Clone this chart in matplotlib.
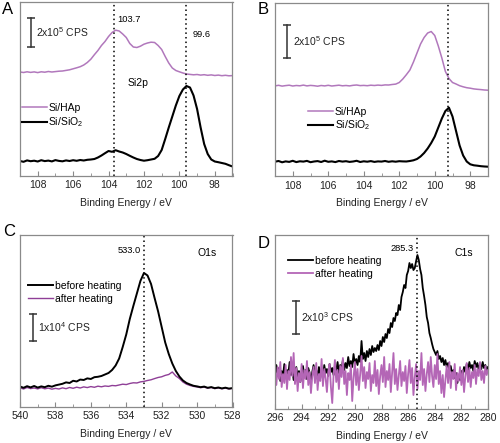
import numpy as np
import matplotlib
matplotlib.use('Agg')
from matplotlib import pyplot as plt
from matplotlib.ticker import MultipleLocator

plt.rcParams['font.family'] = ['Liberation Sans', 'DejaVu Sans']
plt.rcParams['mathtext.default'] = 'regular'

# Si2p, panel A (109 -> 97 eV, paso 0.2 eV), intensidad en u.a. con offset
si_a_hap = [104.0, 103.5, 104.2, 103.6, 104.1, 103.4, 104.2, 103.8, 104.5, 104.0,
            104.4, 104.8, 105.0, 105.6, 106.2, 107.2, 108.2, 109.3, 111.0, 113.5,
            116.8, 121.3, 125.5, 130.5, 134.5, 139.5, 143.5, 145.8, 145.0, 142.0,
            138.5, 132.5, 129.0, 128.5, 129.8, 131.8, 133.0, 133.8, 133.5, 130.5,
            126.5, 119.5, 113.0, 108.0, 105.5, 104.2, 103.0, 102.0, 101.6, 101.2,
            101.5, 100.9, 101.3, 100.7, 101.1, 100.5, 100.9, 100.3, 100.7, 100.2,
            100.4]
si_a_sio2 = [15.0, 14.2, 15.6, 14.8, 15.3, 14.5, 15.8, 14.9, 15.4, 14.6,
             15.9, 15.1, 14.7, 15.6, 15.0, 15.8, 15.2, 16.0, 15.5, 16.2,
             16.5, 17.0, 18.5, 20.5, 22.8, 25.0, 24.2, 25.8, 24.5, 23.5,
             22.0, 20.2, 18.5, 17.0, 16.0, 15.3, 15.8, 16.5, 17.2, 20.0,
             26.0, 37.0, 48.5, 59.5, 70.5, 80.0, 86.5, 90.0, 88.5, 80.5,
             67.0, 48.5, 32.0, 22.0, 16.5, 14.5, 13.8, 13.0, 12.2, 10.8,
             9.5]

# Si2p, panel B
si_b_hap = [90.6, 91.2, 90.4, 90.9, 91.3, 90.5, 91.0, 90.7, 91.4, 90.6,
            91.1, 90.8, 90.3, 91.0, 90.6, 91.2, 90.5, 90.9, 91.3, 90.7,
            91.0, 90.6, 91.2, 91.5, 90.9, 91.1, 90.8, 91.3, 91.0, 91.4,
            91.1, 91.6, 91.5, 92.0, 92.4, 94.0, 97.5, 101.8, 106.5, 114.5,
            123.5, 132.5, 139.0, 143.5, 145.0, 141.0, 130.5, 118.5, 105.0, 98.0,
            94.0, 92.5, 90.8, 89.7, 88.8, 88.3, 87.6, 87.2, 86.9, 86.5,
            86.3]
si_b_sio2 = [14.8, 15.5, 14.2, 15.1, 14.6, 15.7, 14.4, 15.2, 14.9, 15.6,
             14.3, 15.0, 15.4, 14.5, 15.8, 14.7, 15.1, 14.4, 15.5, 14.9,
             15.3, 14.6, 15.0, 15.7, 14.5, 15.2, 14.8, 15.4, 14.6, 15.1,
             14.9, 15.5, 14.7, 15.2, 14.8, 15.3, 15.1, 15.0, 15.5, 16.2,
             17.5, 20.0, 23.5, 28.0, 33.5, 40.0, 49.0, 58.0, 65.5, 68.8,
             60.0, 45.5, 31.0, 21.0, 15.0, 12.2, 11.2, 10.8, 10.3, 10.0,
             9.8]

# O1s, panel C (540 -> 528 eV, paso 0.2 eV)
o1s_antes = [20.5, 19.2, 20.8, 19.6, 21.0, 19.4, 20.6, 19.8, 21.2, 20.3,
             21.6, 22.4, 23.2, 24.6, 24.0, 26.2, 25.5, 27.4, 27.0, 28.6,
             28.0, 29.8, 30.2, 31.0, 32.5, 34.0, 37.0, 41.5, 48.5, 60.0,
             72.5, 88.0, 101.0, 113.5, 126.0, 134.0, 131.5, 123.0, 109.0, 95.5,
             80.0, 64.5, 53.0, 43.5, 36.0, 30.5, 26.5, 24.0, 22.5, 21.2,
             20.6, 19.8, 20.4, 19.2, 19.9, 18.8, 19.5, 18.6, 19.3, 18.4,
             18.9]
o1s_despues = [19.2, 18.0, 19.5, 18.4, 19.0, 18.1, 19.3, 18.2, 18.9, 17.8,
               18.6, 18.0, 19.1, 18.3, 19.5, 18.7, 19.8, 19.0, 20.1, 19.4,
               20.4, 19.7, 20.8, 20.2, 21.0, 20.6, 21.5, 21.2, 22.0, 22.8,
               22.4, 23.5, 24.2, 24.0, 25.1, 25.6, 26.5, 27.2, 28.4, 29.5,
               30.2, 31.6, 32.5, 35.0, 31.0, 28.5, 25.0, 22.8, 21.5, 20.6,
               20.0, 19.3, 19.9, 18.8, 19.5, 18.4, 19.1, 18.2, 18.9, 18.0,
               18.6]

# C1s, panel D (296 -> 280 eV, paso 0.1 eV)
c1s_antes = [30, 44, 36, 41, 28, 38, 33, 45, 31, 39,
             35, 47, 34, 40, 29, 36, 42, 32, 38, 27,
             35, 43, 33, 39, 30, 41, 36, 28, 37, 44,
             33, 39, 31, 42, 35, 38, 30, 44, 36, 40,
             33, 45, 37, 41, 34, 43, 38, 47, 36, 44,
             40, 49, 39, 46, 41, 52, 43, 48, 42, 55,
             45, 50, 44, 53, 47, 68, 50, 56, 48, 58,
             52, 60, 54, 63, 57, 61, 58, 64, 59, 68,
             63, 72, 67, 75, 71, 80, 76, 86, 82, 91,
             88, 96, 94, 104, 99, 112, 117, 124, 121, 134,
             138, 146, 141, 145, 139, 141, 148, 154, 149, 140,
             134, 121, 113, 104, 92, 86, 76, 71, 65, 60,
             57, 54, 58, 50, 53, 47, 51, 44, 49, 42,
             46, 38, 43, 35, 39, 31, 36, 26, 33, 29,
             38, 34, 42, 37, 45, 39, 47, 41, 44, 38,
             48, 42, 46, 39, 45, 40, 47, 41, 44, 38,
             42]
c1s_despues = [38, 24, 42, 30, 47, 22, 35, 26, 44, 20,
               38, 29, 52, 33, 56, 25, 41, 18, 36, 27,
               45, 21, 39, 30, 48, 24, 37, 16, 33, 42,
               26, 46, 19, 35, 28, 50, 23, 40, 31, 17,
               37, 45, 22, 6, 34, 49, 27, 39, 20, 43,
               32, 51, 25, 38, 14, 36, 29, 44, 8, 31,
               47, 24, 40, 19, 35, 53, 28, 42, 21, 37,
               30, 46, 18, 34, 26, 48, 23, 39, 15, 33,
               44, 27, 52, 22, 38, 29, 45, 17, 36, 56,
               25, 40, 19, 34, 48, 23, 37, 28, 43, 16,
               35, 49, 26, 41, 14, 32, 45, 20, 38, 29,
               56, 24, 40, 18, 35, 47, 27, 52, 33, 22,
               44, 30, 55, 25, 38, 16, 34, 12, 29, 43,
               26, 47, 21, 37, 30, 45, 19, 36, 28, 42,
               24, 39, 17, 33, 46, 27, 41, 22, 37, 31,
               44, 25, 40, 33, 47, 29, 38, 26, 43, 34,
               39]

e_si = np.linspace(109.0, 97.0, len(si_a_hap))
e_o = np.linspace(540.0, 528.0, len(o1s_antes))
e_c = np.linspace(296.0, 280.0, len(c1s_antes))

negro = 'black'
lila = '#b178bc'
lila_c = '#8f3f97'
lila_d = '#b466b6'
gris = '#8a8a8a'
fs = 7.5

fig = plt.figure(figsize=(5, 4.43), dpi=100)
axA = fig.add_axes([0.04, 0.6027, 0.425, 0.3928])
axB = fig.add_axes([0.55, 0.6016, 0.426, 0.3916])
axC = fig.add_axes([0.04, 0.0813, 0.425, 0.3883])
axD = fig.add_axes([0.55, 0.0767, 0.426, 0.3928])


def formato(ax, xlim, ylim):
    ax.set_xlim(*xlim)
    ax.set_ylim(*ylim)
    ax.set_yticks([])
    ax.xaxis.set_major_locator(MultipleLocator(2))
    ax.xaxis.set_minor_locator(MultipleLocator(1))
    ax.tick_params(axis='x', which='both', direction='in', color=gris,
                   labelsize=fs, labelcolor='#222222', pad=3)
    ax.tick_params(axis='x', which='major', length=3.5)
    ax.tick_params(axis='x', which='minor', length=2)
    for s in ax.spines.values():
        s.set_color(gris)
        s.set_linewidth(0.9)
    ax.set_xlabel('Binding Energy / eV', fontsize=fs, color='#222222', labelpad=5.5)


def barra(ax, x, y0, y1, texto, xt):
    ax.plot([x, x], [y0, y1], color='#333333', lw=1.1, marker='_', ms=6, mew=1.1)
    ax.text(xt, (y0 + y1) / 2, texto, fontsize=fs, va='center', ha='left', color='#222222')


punteado = dict(color='black', ls=(0, (1, 2)), lw=1.1)

# Panel A
axA.plot(e_si, si_a_hap, color=lila, lw=1.1, label='Si/HAp')
axA.plot(e_si, si_a_sio2, color=negro, lw=1.5, label='Si/SiO$_2$')
axA.axvline(103.7, **punteado)
axA.axvline(99.6, **punteado)
formato(axA, (109, 97), (0, 174))
axA.text(103.52, 156, '103.7', fontsize=6.7, va='center', ha='left')
axA.text(99.23, 141.7, '99.6', fontsize=6.7, va='center', ha='left')
axA.text(102.33, 92.7, 'Si2p', fontsize=fs, va='center', ha='center')
barra(axA, 108.38, 129, 158, '2x10$^5$ CPS', 108.1)
axA.legend(loc='center left', bbox_to_anchor=(0.009, 0.344), frameon=False,
           fontsize=fs, handlelength=2.4, handletextpad=0.15, labelspacing=0.25,
           borderpad=0, borderaxespad=0)

# Panel B
axB.plot(e_si, si_b_hap, color=lila, lw=1.1, label='Si/HAp')
axB.plot(e_si, si_b_sio2, color=negro, lw=1.5, label='Si/SiO$_2$')
axB.axvline(99.25, **punteado)
formato(axB, (109, 97), (0, 173.5))
barra(axB, 108.34, 119, 152, '2x10$^5$ CPS', 108.0)
axB.legend(loc='center left', bbox_to_anchor=(0.155, 0.328), frameon=False,
           fontsize=fs, handlelength=2.4, handletextpad=0.15, labelspacing=0.15,
           borderpad=0, borderaxespad=0)

# Panel C
axC.plot(e_o, o1s_despues, color=lila_c, lw=1.0, label='after heating')
axC.plot(e_o, o1s_antes, color=negro, lw=1.4, label='before heating')
axC.axvline(533.0, **punteado)
formato(axC, (540, 528), (0, 172))
axC.text(533.15, 156, '533.0', fontsize=6.7, va='center', ha='right')
axC.text(529.98, 153.7, 'O1s', fontsize=fs, va='center', ha='left')
barra(axC, 539.25, 66, 93, '1x10$^4$ CPS', 538.96)
h, l = axC.get_legend_handles_labels()
axC.legend(h[::-1], l[::-1], loc='center left', bbox_to_anchor=(0.038, 0.666),
           frameon=False, fontsize=fs, handlelength=2.4, handletextpad=0.15,
           labelspacing=0.25, borderpad=0, borderaxespad=0)

# Panel D
axD.plot(e_c, c1s_antes, color=negro, lw=1.3, label='before heating')
axD.plot(e_c, c1s_despues, color=lila_d, lw=1.3, label='after heating')
axD.axvline(285.3, **punteado)
formato(axD, (296, 280), (0, 174))
axD.text(285.61, 160.7, '285.3', fontsize=6.7, va='center', ha='right')
axD.text(282.48, 155.7, 'C1s', fontsize=fs, va='center', ha='left')
barra(axD, 294.45, 75, 108.3, '2x10$^3$ CPS', 294.07)
axD.legend(loc='center left', bbox_to_anchor=(0.062, 0.815), frameon=False,
           fontsize=fs, handlelength=2.4, handletextpad=0.15, labelspacing=0.25,
           borderpad=0, borderaxespad=0)

# letras de panel
fig.text(0.004, 1 - 9 / 443, 'A', fontsize=12, va='center', ha='left')
fig.text(0.516, 1 - 10 / 443, 'B', fontsize=12, va='center', ha='left')
fig.text(0.006, 1 - 232 / 443, 'C', fontsize=12, va='center', ha='left')
fig.text(0.516, 1 - 244 / 443, 'D', fontsize=12, va='center', ha='left')

plt.savefig('out.png', dpi=100)
